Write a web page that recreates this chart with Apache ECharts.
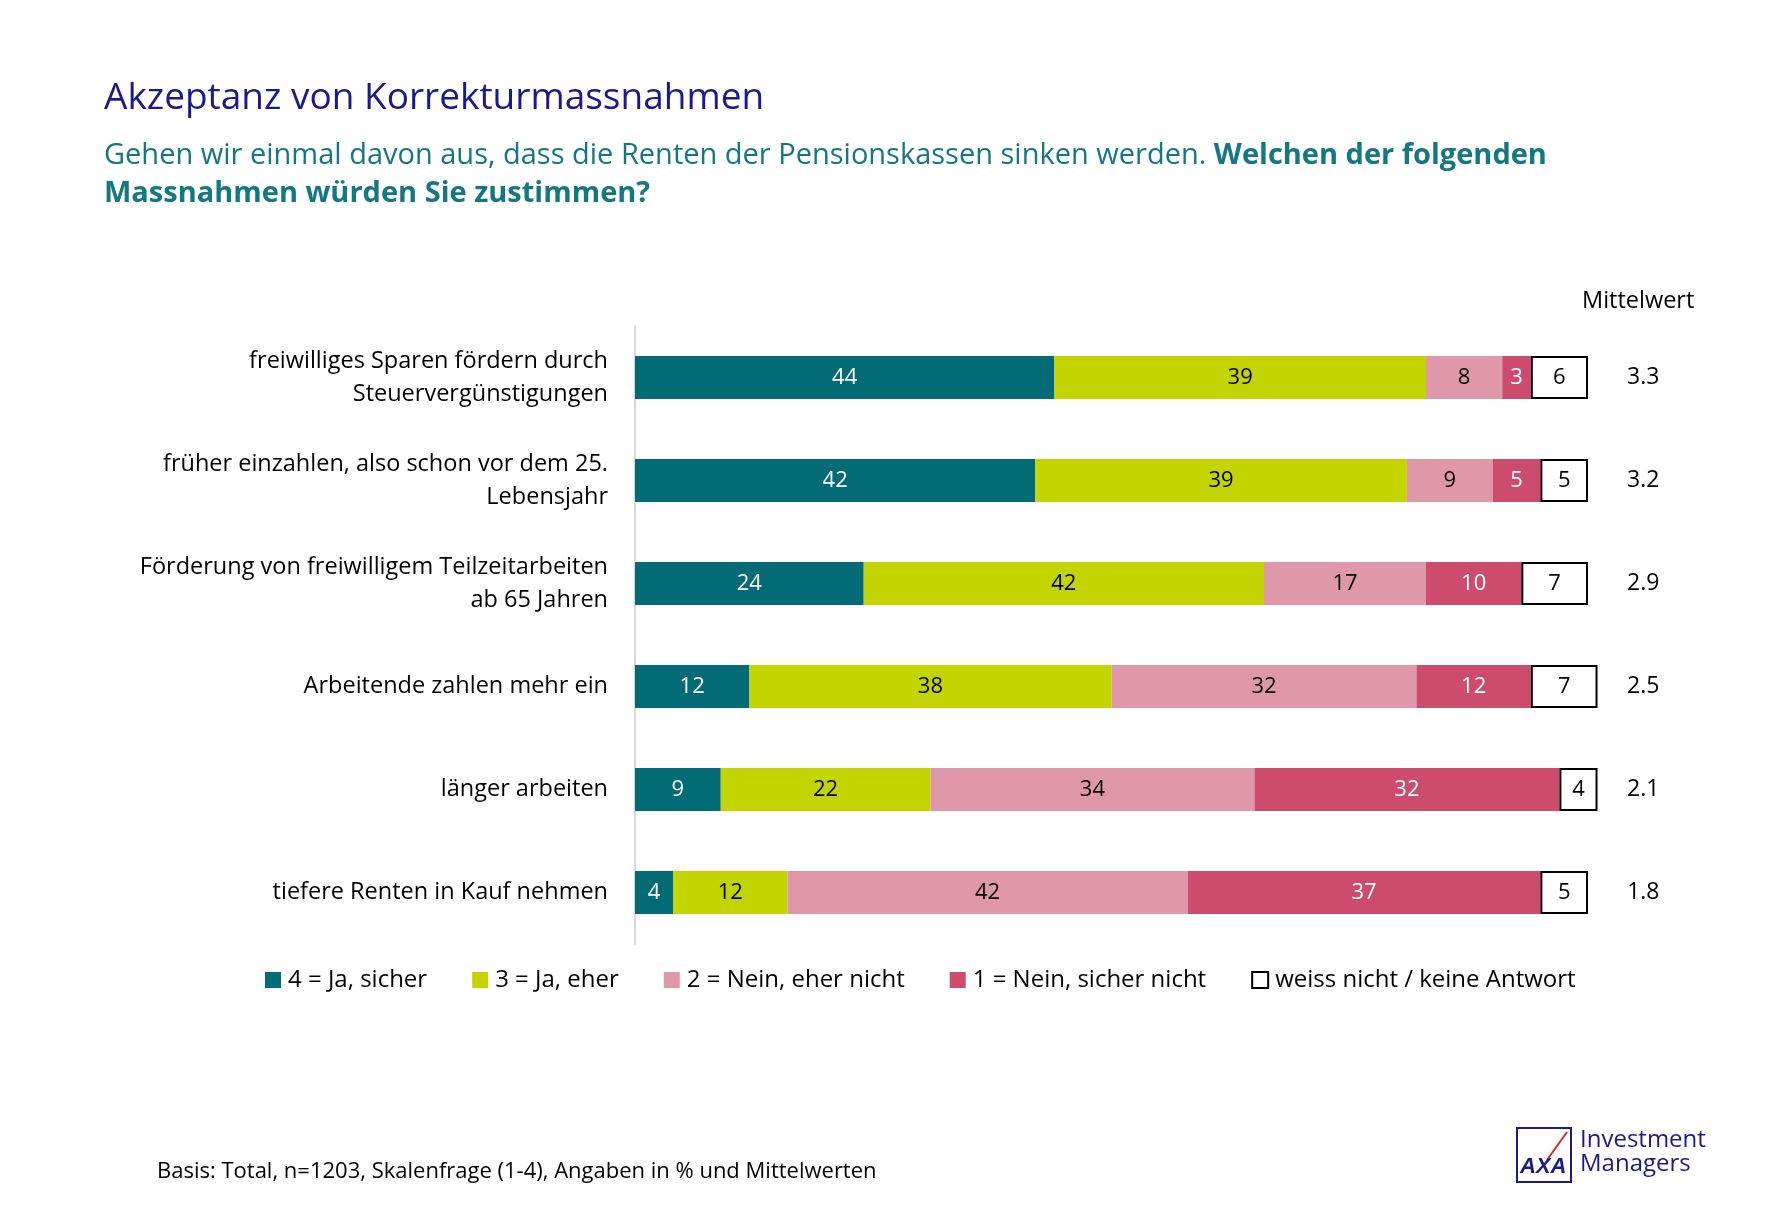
<!DOCTYPE html>
<html>
<head>
<meta charset="utf-8">
<script src="https://cdn.jsdelivr.net/npm/echarts@6/dist/echarts.min.js"></script>
<style>
html,body{margin:0;padding:0;background:#fff;}
#main{width:1770px;height:1221px;}
</style>
</head>
<body>
<div id="main"></div>
<script>
const categories = [
  'freiwilliges Sparen fördern durch\nSteuervergünstigungen',
  'früher einzahlen, also schon vor dem 25.\nLebensjahr',
  'Förderung von freiwilligem Teilzeitarbeiten\nab 65 Jahren',
  'Arbeitende zahlen mehr ein',
  'länger arbeiten',
  'tiefere Renten in Kauf nehmen'
];
const seriesNames = ['4 = Ja, sicher', '3 = Ja, eher', '2 = Nein, eher nicht', '1 = Nein, sicher nicht', 'weiss nicht / keine Antwort'];
const jaSicher = [44, 42, 24, 12, 9, 4];
const jaEher = [39, 39, 42, 38, 22, 12];
const neinEherNicht = [8, 9, 17, 32, 34, 42];
const neinSicherNicht = [3, 5, 10, 12, 32, 37];
const weissNicht = [6, 5, 7, 7, 4, 5];
const mittelwert = ['3.3', '3.2', '2.9', '2.5', '2.1', '1.8'];

const colors = ['#036b76', '#c3d400', '#e097aa', '#cd4c6e', '#ffffff'];
const labelColors = ['#ffffff', '#000000', '#000000', '#ffffff', '#000000'];
const FONT = '"Open Sans", sans-serif';
const values = [jaSicher, jaEher, neinEherNicht, neinSicherNicht, weissNicht];

const series = values.map((vals, i) => ({
  name: seriesNames[i],
  type: 'bar',
  stack: 'total',
  barWidth: 43,
  clip: false,
  data: vals,
  itemStyle: i === 4 ? {color: '#ffffff', borderColor: '#000000', borderWidth: 2} : {color: colors[i]},
  label: {
    show: true, position: 'inside', color: labelColors[i],
    fontFamily: FONT, fontSize: 22
  },
  emphasis: {disabled: true}
}));

const chart = echarts.init(document.getElementById('main'));
chart.setOption({
  backgroundColor: '#ffffff',
  animation: false,
  title: [{
    text: 'Akzeptanz von Korrekturmassnahmen',
    left: 99, top: 75,
    textStyle: {color: '#1a1a8f', fontFamily: FONT, fontSize: 37, fontWeight: 'normal'}
  }, {
    text: '{n|Gehen wir einmal davon aus, dass die Renten der Pensionskassen sinken werden. }{b|Welchen der folgenden}\n{b|Massnahmen würden Sie zustimmen?}',
    left: 99, top: 132,
    textStyle: {
      rich: {
        n: {color: '#137880', fontFamily: FONT, fontSize: 29, fontWeight: 'normal', lineHeight: 38},
        b: {color: '#137880', fontFamily: FONT, fontSize: 29, fontWeight: 'bold', lineHeight: 38}
      }
    }
  }],
  legend: {
    left: 260, top: 963,
    itemWidth: 16, itemHeight: 16, itemGap: 45,
    icon: 'rect',
    selectedMode: false,
    data: seriesNames.map((n, i) => i === 4
      ? {name: n, itemStyle: {color: '#ffffff', borderColor: '#000000', borderWidth: 2}}
      : {name: n}),
    textStyle: {fontFamily: FONT, fontSize: 24, color: '#000', padding: [0, 0, 0, 2]}
  },
  grid: {left: 635, right: 182, top: 326, height: 618, containLabel: false},
  xAxis: {type: 'value', min: 0, max: 100, show: false},
  yAxis: [{
    type: 'category', data: categories, inverse: true,
    axisLine: {show: true, lineStyle: {color: '#d9d9d9', width: 2}},
    axisTick: {show: false},
    axisLabel: {margin: 27, fontFamily: FONT, fontSize: 23.5, color: '#000', lineHeight: 33, align: 'right'}
  }, {
    type: 'category', data: mittelwert, inverse: true, position: 'right',
    axisLine: {show: false}, axisTick: {show: false},
    axisLabel: {margin: 39, fontFamily: FONT, fontSize: 23, color: '#000'}
  }],
  series: series,
  graphic: [{
    type: 'text', left: 1582, top: 289,
    style: {text: 'Mittelwert', font: '23.5px "Open Sans", sans-serif', fill: '#000'}
  }, {
    type: 'text', left: 157, top: 1161,
    style: {text: 'Basis: Total, n=1203, Skalenfrage (1-4), Angaben in % und Mittelwerten', font: '22px "Open Sans", sans-serif', fill: '#000'}
  }, {
    type: 'group', left: 1516, top: 1127,
    children: [{
      type: 'rect', shape: {x: 0, y: 0, width: 54, height: 54},
      style: {fill: '#fff', stroke: '#1a1a8f', lineWidth: 2}
    }, {
      type: 'line', shape: {x1: 50, y1: 4, x2: 30, y2: 32},
      style: {stroke: '#e8202a', lineWidth: 2}
    }, {
      type: 'text', x: 3, y: 28,
      style: {text: 'AXA', font: 'italic bold 22px "Liberation Sans", sans-serif', fill: '#1a1a8f'}
    }]
  }, {
    type: 'text', left: 1580, top: 1128,
    style: {text: 'Investment\nManagers', font: '24px "Open Sans", sans-serif', lineHeight: 24, fill: '#1a1a8f'}
  }]
});
</script>
</body>
</html>
